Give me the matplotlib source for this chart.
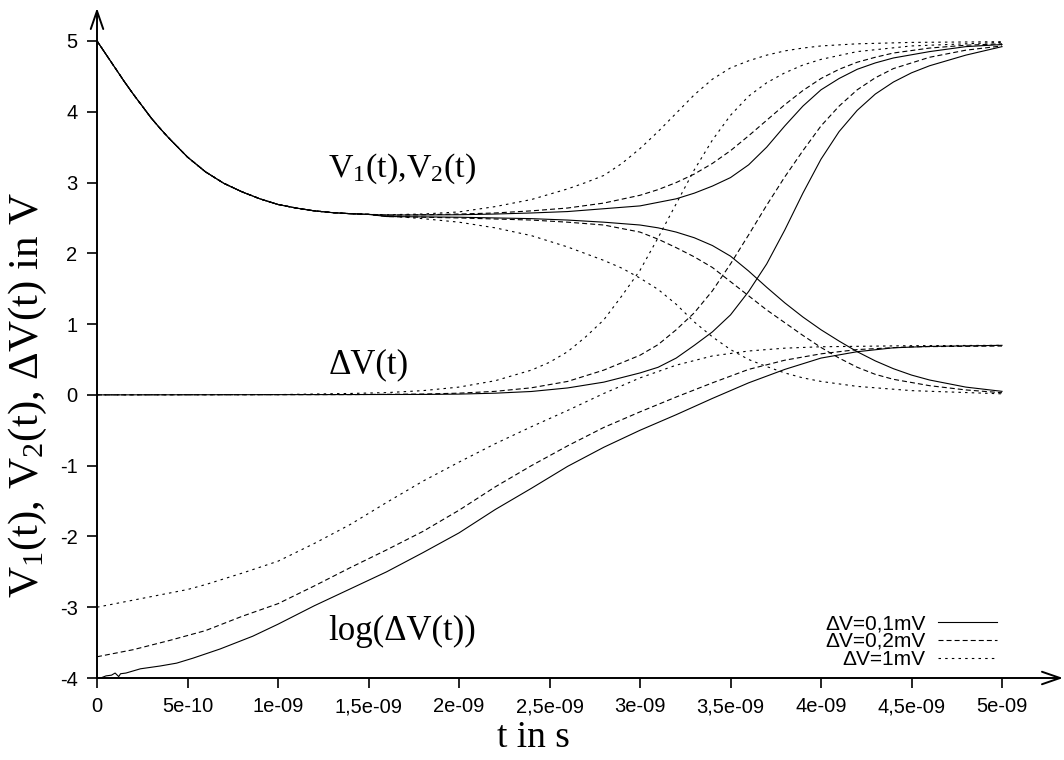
import numpy as np
import matplotlib
matplotlib.use("Agg")
import matplotlib.pyplot as plt
from matplotlib.ticker import FixedLocator, FixedFormatter

# ---------------------------------------------------------------- data
# time axis in ns (converted to seconds when plotting)
t_pre = [0.0, 0.05, 0.1, 0.15, 0.2, 0.25, 0.3, 0.35, 0.4, 0.5, 0.6, 0.7, 0.8,
         0.9, 1.0, 1.1, 1.2, 1.3, 1.4, 1.5]
v_pre = [5.00, 4.81, 4.62, 4.43, 4.25, 4.08, 3.91, 3.76, 3.62, 3.36, 3.15,
         2.99, 2.87, 2.77, 2.69, 2.64, 2.60, 2.575, 2.56, 2.55]

# V1 / V2 after the common precharge phase
t_v1_1m = [1.6, 1.8, 2.0, 2.2, 2.4, 2.6, 2.7, 2.8, 2.9, 3.0, 3.1, 3.2, 3.3, 3.4,
           3.5, 3.6, 3.7, 3.8, 3.9, 4.0, 4.2, 4.5, 5.0]
v1_1m = [2.545, 2.555, 2.585, 2.66, 2.76, 2.91, 3.00, 3.10, 3.27, 3.48, 3.72,
         3.98, 4.24, 4.46, 4.62, 4.72, 4.80, 4.86, 4.90, 4.93, 4.96, 4.98, 4.99]
t_v2_1m = [1.6, 1.8, 2.0, 2.2, 2.4, 2.6, 2.8, 2.9, 3.0, 3.1, 3.2, 3.3, 3.4, 3.5,
           3.6, 3.7, 3.8, 3.9, 4.0, 4.2, 4.5, 5.0]
v2_1m = [2.53, 2.49, 2.44, 2.36, 2.25, 2.09, 1.90, 1.79, 1.65, 1.49, 1.28, 1.03,
         0.82, 0.64, 0.50, 0.40, 0.31, 0.24, 0.19, 0.12, 0.06, 0.015]

t_v1_02m = [1.6, 1.8, 2.0, 2.2, 2.4, 2.6, 2.8, 3.0, 3.1, 3.2, 3.3, 3.4, 3.5, 3.6,
            3.7, 3.8, 3.9, 4.0, 4.1, 4.2, 4.3, 4.4, 4.6, 4.8, 5.0]
v1_02m = [2.54, 2.545, 2.555, 2.57, 2.60, 2.64, 2.71, 2.82, 2.90, 3.00, 3.12,
          3.27, 3.45, 3.66, 3.88, 4.10, 4.30, 4.47, 4.60, 4.70, 4.77, 4.83,
          4.90, 4.94, 4.96]
t_v2_02m = [1.6, 2.0, 2.2, 2.4, 2.6, 2.8, 3.0, 3.1, 3.2, 3.3, 3.4, 3.5, 3.6, 3.7,
            3.8, 3.9, 4.0, 4.1, 4.2, 4.3, 4.4, 4.6, 4.8, 5.0]
v2_02m = [2.52, 2.50, 2.485, 2.47, 2.44, 2.40, 2.30, 2.20, 2.08, 1.95, 1.80,
          1.60, 1.40, 1.20, 1.02, 0.84, 0.67, 0.52, 0.39, 0.29, 0.22, 0.13,
          0.07, 0.03]

t_v1_01m = [1.6, 2.0, 2.2, 2.4, 2.6, 2.8, 3.0, 3.2, 3.3, 3.4, 3.5, 3.6, 3.7, 3.8,
            3.9, 4.0, 4.1, 4.2, 4.3, 4.4, 4.6, 4.8, 5.0]
v1_01m = [2.54, 2.545, 2.555, 2.57, 2.59, 2.63, 2.67, 2.77, 2.85, 2.95, 3.07,
          3.25, 3.50, 3.80, 4.08, 4.31, 4.47, 4.60, 4.69, 4.76, 4.85, 4.92, 4.95]
t_v2_01m = [1.6, 2.0, 2.4, 2.6, 2.8, 3.0, 3.1, 3.2, 3.3, 3.4, 3.5, 3.6, 3.7, 3.8,
            3.9, 4.0, 4.1, 4.2, 4.3, 4.4, 4.5, 4.6, 4.8, 5.0]
v2_01m = [2.52, 2.51, 2.49, 2.47, 2.44, 2.40, 2.36, 2.30, 2.22, 2.11, 1.96,
          1.75, 1.52, 1.30, 1.10, 0.92, 0.76, 0.61, 0.48, 0.37, 0.28, 0.21,
          0.11, 0.05]

# differential voltage dV = V1 - V2
t_dv_1m = [0.0, 1.0, 1.4, 1.6, 1.8, 2.0, 2.2, 2.4, 2.5, 2.6, 2.7, 2.8, 2.9, 3.0,
           3.1, 3.2, 3.3, 3.4, 3.5, 3.6, 3.7, 3.8, 3.9, 4.0, 4.2, 4.5, 5.0]
dv_1m = [0.001, 0.004, 0.02, 0.032, 0.06, 0.11, 0.20, 0.35, 0.46, 0.61, 0.82,
         1.06, 1.40, 1.76, 2.22, 2.70, 3.18, 3.60, 3.95, 4.22, 4.41, 4.55, 4.66,
         4.74, 4.85, 4.93, 4.98]
t_dv_02m = [0.0, 1.4, 1.8, 2.0, 2.2, 2.4, 2.6, 2.8, 3.0, 3.1, 3.2, 3.3, 3.4, 3.5,
            3.6, 3.7, 3.8, 3.9, 4.0, 4.1, 4.2, 4.3, 4.4, 4.6, 4.8, 5.0]
dv_02m = [0.0002, 0.004, 0.012, 0.024, 0.05, 0.10, 0.19, 0.35, 0.56, 0.71, 0.92,
          1.16, 1.47, 1.85, 2.26, 2.68, 3.08, 3.45, 3.80, 4.08, 4.31, 4.48,
          4.61, 4.77, 4.87, 4.93]
t_dv_01m = [0.0, 1.8, 2.0, 2.2, 2.4, 2.6, 2.8, 3.0, 3.1, 3.2, 3.3, 3.4, 3.5, 3.6,
            3.7, 3.8, 3.9, 4.0, 4.1, 4.2, 4.3, 4.4, 4.5, 4.6, 4.8, 5.0]
dv_01m = [0.0001, 0.006, 0.011, 0.024, 0.048, 0.098, 0.18, 0.31, 0.39, 0.52,
          0.70, 0.89, 1.13, 1.46, 1.85, 2.33, 2.85, 3.33, 3.72, 4.02, 4.25,
          4.42, 4.55, 4.65, 4.80, 4.92]

# log10 of the differential voltage
t_log_1m = [0.0, 0.2, 0.4, 0.5, 0.6, 0.8, 1.0, 1.2, 1.4, 1.6, 1.8, 2.0, 2.2, 2.4,
            2.6, 2.8, 3.0, 3.2, 3.4, 3.6, 3.8, 4.0, 4.5, 5.0]
log_1m = [-3.00, -2.90, -2.80, -2.75, -2.68, -2.52, -2.35, -2.10, -1.83, -1.52,
          -1.22, -0.95, -0.69, -0.45, -0.22, 0.02, 0.24, 0.42, 0.55, 0.62, 0.66,
          0.68, 0.695, 0.70]
t_log_02m = [0.0, 0.2, 0.4, 0.5, 0.6, 0.8, 1.0, 1.2, 1.4, 1.6, 1.8, 2.0, 2.2, 2.4,
             2.6, 2.8, 3.0, 3.2, 3.4, 3.6, 3.8, 4.0, 4.2, 4.5, 5.0]
log_02m = [-3.70, -3.60, -3.47, -3.40, -3.33, -3.13, -2.95, -2.70, -2.44, -2.19,
           -1.93, -1.63, -1.30, -1.00, -0.72, -0.46, -0.24, -0.03, 0.17, 0.36,
           0.49, 0.58, 0.64, 0.68, 0.69]
t_log_01m = [0.02, 0.05, 0.08, 0.10, 0.12, 0.13, 0.16, 0.24, 0.35, 0.44, 0.53,
             0.68, 0.86, 1.0, 1.2, 1.4, 1.6, 1.8, 2.0, 2.2, 2.4, 2.6, 2.8, 3.0,
             3.2, 3.4, 3.6, 3.8, 4.0, 4.2, 4.4, 4.6, 5.0]
log_01m = [-4.00, -3.97, -3.96, -3.93, -3.98, -3.94, -3.93, -3.87, -3.83, -3.79,
           -3.72, -3.59, -3.41, -3.24, -2.98, -2.74, -2.50, -2.23, -1.95, -1.62,
           -1.32, -1.01, -0.74, -0.50, -0.28, -0.05, 0.17, 0.36, 0.52, 0.61,
           0.665, 0.685, 0.70]

series_labels = ["\u0394V=0,1mV", "\u0394V=0,2mV", "\u0394V=1mV"]

x_ticks = [0.0, 0.5, 1.0, 1.5, 2.0, 2.5, 3.0, 3.5, 4.0, 4.5, 5.0]
x_tick_labels = ["0", "5e-10", "1e-09", "1,5e-09", "2e-09", "2,5e-09", "3e-09",
                 "3,5e-09", "4e-09", "4,5e-09", "5e-09"]
y_ticks = [-4, -3, -2, -1, 0, 1, 2, 3, 4, 5]
y_tick_labels = ["-4", "-3", "-2", "-1", "0", "1", "2", "3", "4", "5"]

# ---------------------------------------------------------------- style
plt.rcParams["font.family"] = ["Liberation Sans", "DejaVu Sans"]
plt.rcParams["mathtext.fontset"] = "custom"
plt.rcParams["mathtext.rm"] = "Liberation Serif"
plt.rcParams["mathtext.it"] = "Liberation Serif:italic"
plt.rcParams["lines.scale_dashes"] = False

SERIF = ["Liberation Serif", "DejaVu Serif"]
NS = 1e-9
LW = 0.8
styles = {
    "01": dict(color="black", lw=LW, linestyle="-"),
    "02": dict(color="black", lw=LW, linestyle=(0, (3.6, 2.2))),
    "1": dict(color="black", lw=LW, linestyle=(0, (1.8, 3.0))),
}

fig = plt.figure(figsize=(10.64, 7.60), dpi=100)
ax = fig.add_axes([97 / 1064, 82 / 760, 966 / 1064, 670 / 760])


def ns(values):
    return np.asarray(values) * NS


def branch(t_b, v_b):
    """precharge phase followed by one latch branch"""
    return ns(t_pre + t_b), np.asarray(v_pre + v_b)


# V1 / V2 branches
for key, (t1, v1, t2, v2) in {
    "01": (t_v1_01m, v1_01m, t_v2_01m, v2_01m),
    "02": (t_v1_02m, v1_02m, t_v2_02m, v2_02m),
    "1": (t_v1_1m, v1_1m, t_v2_1m, v2_1m),
}.items():
    ax.plot(*branch(t1, v1), **styles[key])
    ax.plot(*branch(t2, v2), **styles[key])

# dV curves
ax.plot(ns(t_dv_01m), dv_01m, **styles["01"])
ax.plot(ns(t_dv_02m), dv_02m, **styles["02"])
ax.plot(ns(t_dv_1m), dv_1m, **styles["1"])

# log10(dV) curves, these carry the legend entries
ax.plot(ns(t_log_01m), log_01m, label=series_labels[0], **styles["01"])
ax.plot(ns(t_log_02m), log_02m, label=series_labels[1], **styles["02"])
ax.plot(ns(t_log_1m), log_1m, label=series_labels[2], **styles["1"])

ax.set_xlim(0, 5.337 * NS)
ax.set_ylim(-4, 5.466)

for s in ax.spines.values():
    s.set_visible(False)

arrow = dict(arrowstyle="->,head_length=1.3,head_width=0.45", lw=1.4,
             color="black", shrinkA=0, shrinkB=0)
ax.annotate("", xy=(1, 0), xytext=(0, 0), xycoords="axes fraction",
            arrowprops=arrow, annotation_clip=False)
ax.annotate("", xy=(0, 1), xytext=(0, 0), xycoords="axes fraction",
            arrowprops=arrow, annotation_clip=False)

ax.xaxis.set_major_locator(FixedLocator(ns(x_ticks)))
ax.xaxis.set_major_formatter(FixedFormatter(x_tick_labels))
ax.yaxis.set_major_locator(FixedLocator(y_ticks))
ax.yaxis.set_major_formatter(FixedFormatter(y_tick_labels))
ax.tick_params(direction="out", length=7, width=1.2, labelsize=14.5, pad=7)

ax.set_xlabel("t in s", fontsize=27, family=SERIF)
ax.xaxis.set_label_coords(0.452, -0.064)
ax.set_ylabel("V$_1$(t), V$_2$(t), \u0394V(t) in V", fontsize=31, family=SERIF)
ax.yaxis.set_label_coords(-0.05, 0.422)

ax.text(1.278 * NS, 3.08, "V$_1$(t),V$_2$(t)", fontsize=24.5, family=SERIF,
        ha="left", va="baseline")
ax.text(1.278 * NS, 0.31, "\u0394V(t)", fontsize=25, family=SERIF,
        ha="left", va="baseline")
ax.text(1.278 * NS, -3.46, "log(\u0394V(t))", fontsize=25, family=SERIF,
        ha="left", va="baseline")

ax.legend(loc="lower right", bbox_to_anchor=(0.942, -0.002), frameon=False,
          markerfirst=False, fontsize=15, handlelength=2.8,
          handletextpad=0.6, labelspacing=-0.05, borderpad=0)

fig.savefig("out.png", dpi=100)
